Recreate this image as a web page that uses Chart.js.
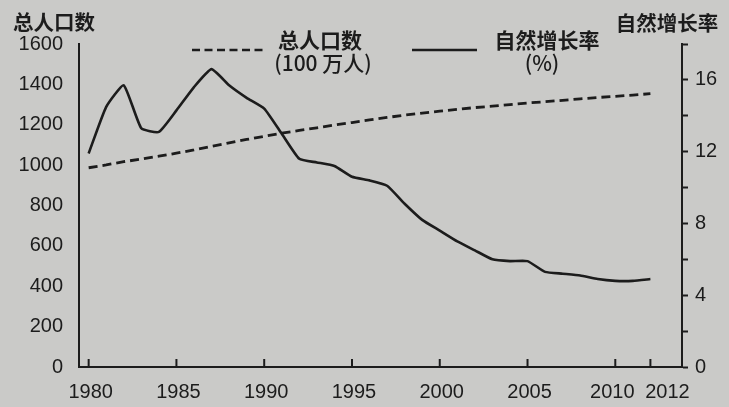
<!DOCTYPE html>
<html>
<head>
<meta charset="utf-8">
<script src="https://cdn.jsdelivr.net/npm/chart.js@4.4.1/dist/chart.umd.min.js"></script>
<style>
  html, body { margin: 0; padding: 0; background: #cacac8; }
  #wrap { width: 729px; height: 407px; position: relative; }
</style>
</head>
<body>
<div id="wrap"><canvas id="c" width="729" height="407"></canvas></div>
<script>
// ---- data ----
const years = [1980,1981,1982,1983,1984,1985,1986,1987,1988,1989,1990,1991,1992,1993,1994,1995,1996,1997,1998,1999,2000,2001,2002,2003,2004,2005,2006,2007,2008,2009,2010,2011,2012];
const totalPopulation = [987,1001,1017,1030,1044,1059,1075,1093,1110,1127,1143,1158,1172,1185,1199,1211,1224,1236,1248,1258,1267,1276,1285,1292,1300,1308,1314,1321,1328,1335,1341,1347,1354];
const growthRate = [11.9,14.5,15.7,13.3,13.1,14.3,15.6,16.6,15.7,15.0,14.4,13.0,11.6,11.4,11.2,10.6,10.4,10.1,9.1,8.2,7.6,7.0,6.5,6.0,5.9,5.9,5.3,5.2,5.1,4.9,4.8,4.8,4.9];
const xTickYears = [1980,1985,1990,1995,2000,2005,2010,2012];
const leftTickValues = [0,200,400,600,800,1000,1200,1400,1600];
const rightLabelValues = [0,4,8,12,16];
const leftTitle = '总人口数';
const rightTitle = '自然增长率';
const popLegend = ['总人口数', '(100 万人)'];
const rateLegend = ['自然增长率', '(%)'];

const INK = '#1c1c1c';
const BG = '#cacac8';
const NUM_FONT = '"Liberation Sans", Arial, sans-serif';
const CJK_FONT = '"Noto Sans CJK SC", "Noto Sans", sans-serif';

const popData = years.map((y, i) => ({x: y, y: totalPopulation[i]}));
const rateData = years.map((y, i) => ({x: y, y: growthRate[i]}));

const decor = {
  id: 'decor',
  beforeDraw(chart) {
    const ctx = chart.ctx;
    ctx.save();
    ctx.fillStyle = BG;
    ctx.fillRect(0, 0, chart.width, chart.height);
    ctx.restore();
  },
  afterDraw(chart) {
    const ctx = chart.ctx;
    const xs = chart.scales.x;
    const area = chart.chartArea;
    ctx.save();
    ctx.strokeStyle = INK;
    ctx.fillStyle = INK;
    ctx.lineWidth = 2;
    // x tick marks (pointing into the plot) and labels
    ctx.font = '20px ' + NUM_FONT;
    ctx.textAlign = 'center';
    ctx.textBaseline = 'middle';
    xTickYears.forEach((yr, i) => {
      const px = xs.getPixelForValue(yr);
      ctx.beginPath();
      ctx.moveTo(px, area.bottom);
      ctx.lineTo(px, area.bottom - 8);
      ctx.stroke();
      const nudge = (i === xTickYears.length - 1) ? 17 : (i === xTickYears.length - 2 ? -3 : 2);
      ctx.fillText(String(yr), px + nudge, area.bottom + 25);
    });
    // axis titles
    ctx.font = 'bold 20.5px ' + CJK_FONT;
    ctx.fillText(leftTitle, 54, 22);
    ctx.fillText(rightTitle, 667, 23);
    // legend
    ctx.lineWidth = 2.6;
    ctx.setLineDash([8, 4.5]);
    ctx.beginPath();
    ctx.moveTo(192, 50); ctx.lineTo(263, 50); ctx.stroke();
    ctx.setLineDash([]);
    ctx.beginPath();
    ctx.moveTo(412, 50); ctx.lineTo(477, 50); ctx.stroke();
    ctx.font = 'bold 21px ' + CJK_FONT;
    ctx.fillText(popLegend[0], 320, 40);
    ctx.fillText(rateLegend[0], 547, 40);
    ctx.font = '500 21px ' + CJK_FONT;
    ctx.fillText(popLegend[1], 323, 63);
    ctx.fillText(rateLegend[1], 542, 63);
    ctx.restore();
  }
};

new Chart(document.getElementById('c'), {
  type: 'line',
  data: {
    datasets: [
      {
        label: popLegend.join(' '),
        data: popData,
        yAxisID: 'y',
        borderColor: INK,
        borderWidth: 2.8,
        borderDash: [9, 5],
        pointRadius: 0,
        fill: false,
        tension: 0
      },
      {
        label: rateLegend.join(' '),
        data: rateData,
        yAxisID: 'y1',
        borderColor: INK,
        borderWidth: 2.6,
        pointRadius: 0,
        fill: false,
        tension: 0.15
      }
    ]
  },
  options: {
    responsive: false,
    animation: false,
    devicePixelRatio: 1,
    layout: { padding: { top: 44, left: 0, right: 0, bottom: 0 } },
    plugins: { legend: { display: false }, title: { display: false }, tooltip: { enabled: false } },
    scales: {
      x: {
        type: 'linear',
        min: 1979.45,
        max: 2013.8,
        grid: { display: false },
        ticks: { display: false },
        border: { display: true, color: INK, width: 2 },
        afterFit(scale) { scale.height = 40; }
      },
      y: {
        position: 'left',
        min: 0,
        max: 1600,
        afterBuildTicks(scale) { scale.ticks = leftTickValues.map(v => ({value: v})); },
        ticks: { color: INK, font: { size: 20, family: NUM_FONT }, padding: 16, callback: (v) => String(v) },
        grid: { drawOnChartArea: false, drawTicks: false },
        border: { display: true, color: INK, width: 2 },
        afterFit(scale) { scale.width = 79; }
      },
      y1: {
        position: 'right',
        min: 0,
        max: 18,
        ticks: {
          stepSize: 2,
          color: INK,
          font: { size: 20, family: NUM_FONT },
          padding: 7,
          callback: (v) => rightLabelValues.includes(v) ? String(v) : ''
        },
        grid: { drawOnChartArea: false, drawTicks: true, tickLength: 6, tickWidth: 2, color: INK },
        border: { display: true, color: INK, width: 2 },
        afterFit(scale) { scale.width = 47; }
      }
    }
  },
  plugins: [decor]
});
</script>
</body>
</html>
